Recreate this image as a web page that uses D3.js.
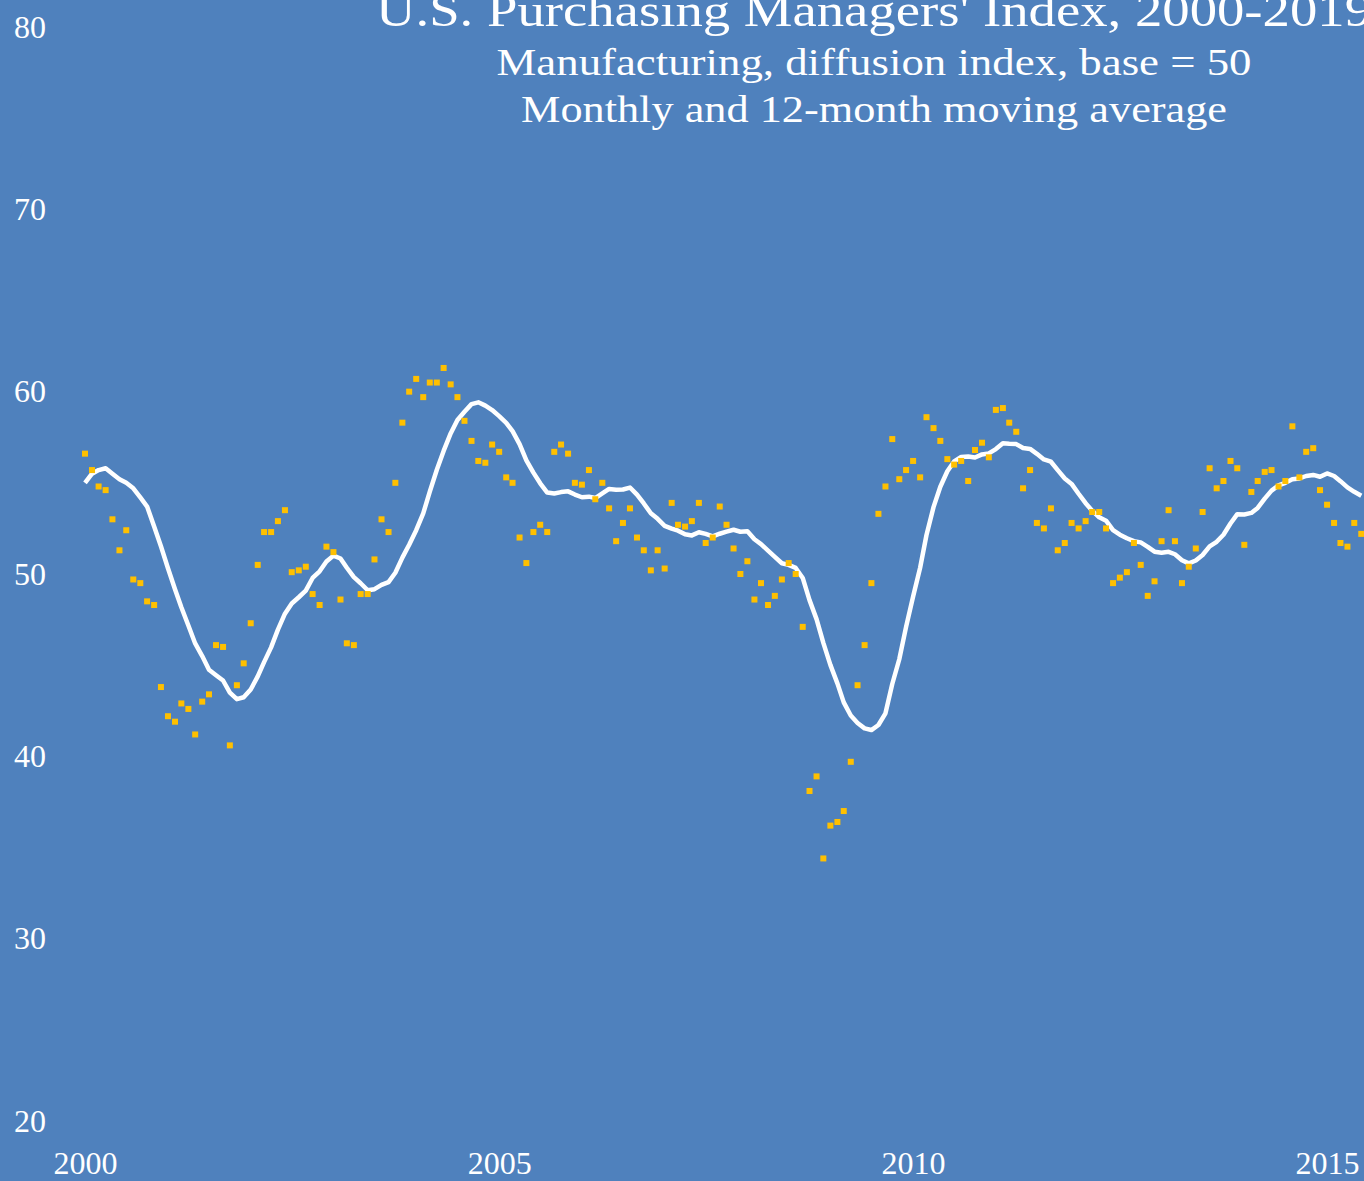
<!DOCTYPE html>
<html>
<head>
<meta charset="utf-8">
<script src="https://cdn.jsdelivr.net/npm/d3@7"></script>
<style>
  html, body { margin: 0; padding: 0; overflow: hidden; background: #4f81bd; }
  text { font-family: "Liberation Serif", "Times New Roman", serif; fill: #fff; }
</style>
</head>
<body>
<div id="chart"></div>
<script>
// monthly ISM manufacturing PMI, Jan 2000 onward
const pmi = [
  56.6, 55.7, 54.8, 54.6, 53.0, 51.3, 52.4, 49.7, 49.5, 48.5, 48.3, 43.8, // 2000
  42.2, 41.9, 42.9, 42.6, 41.2, 43.0, 43.4, 46.1, 46.0, 40.6, 43.9, 45.1, // 2001
  47.3, 50.5, 52.3, 52.3, 52.9, 53.5, 50.1, 50.2, 50.4, 48.9, 48.3, 51.5, // 2002
  51.2, 48.6, 46.2, 46.1, 48.9, 48.9, 50.8, 53.0, 52.3, 55.0, 58.3, 60.0, // 2003
  60.7, 59.7, 60.5, 60.5, 61.3, 60.4, 59.7, 58.4, 57.3, 56.2, 56.1, 57.1, // 2004
  56.7, 55.3, 55.0, 52.0, 50.6, 52.3, 52.7, 52.3, 56.7, 57.1, 56.6, 55.0, // 2005
  54.9, 55.7, 54.1, 55.0, 53.6, 51.8, 52.8, 53.6, 52.0, 51.3, 50.2, 51.3, // 2006
  50.3, 53.9, 52.7, 52.6, 52.9, 53.9, 51.7, 52.0, 53.7, 52.7, 51.4, 50.0, // 2007
  50.7, 48.6, 49.5, 48.3, 48.8, 49.7, 50.6, 50.0, 47.1, 38.1, 38.9, 34.4, // 2008
  36.2, 36.4, 37.0, 39.7, 43.9, 46.1, 49.5, 53.3, 54.8, 57.4, 55.2, 55.7, // 2009
  56.2, 55.3, 58.6, 58.0, 57.3, 56.3, 56.0, 56.2, 55.1, 56.8, 57.2, 56.4, // 2010
  59.0, 59.1, 58.3, 57.8, 54.7, 55.7, 52.8, 52.5, 53.6, 51.3, 51.7, 52.8, // 2011
  52.5, 52.9, 53.4, 53.4, 52.5, 49.5, 49.8, 50.1, 51.7, 50.5, 48.8, 49.6, // 2012
  51.8, 53.5, 51.8, 49.5, 50.4, 51.4, 53.4, 55.8, 54.7, 55.1, 56.2, 55.8, // 2013
  51.6, 54.5, 55.1, 55.6, 55.7, 54.8, 55.1, 58.1, 55.3, 56.7, 56.9, 54.6, // 2014
  53.8, 52.8, 51.7, 51.5, 52.8, 52.2                                      // 2015
];

// 12-month average for Jan-Nov 2000 (needs 1999 months)
const maStart = [55.0, 55.5, 55.7, 55.8, 55.5, 55.2, 55.0, 54.7, 54.2, 53.7, 52.6];

const yTicks = [20, 30, 40, 50, 60, 70, 80];
const xTicks = [2000, 2005, 2010, 2015, 2020];

const title = "U.S. Purchasing Managers' Index, 2000-2019";
const subtitle1 = "Manufacturing, diffusion index, base = 50";
const subtitle2 = "Monthly and 12-month moving average";

const width = 1748,
    height = 1181;

const svg = d3.select("#chart")
  .append("svg")
  .attr("width", width)
  .attr("height", height)
  .style("display", "block");

svg.append("rect")
  .attr("width", width)
  .attr("height", height)
  .attr("fill", "#4f81bd");

const x = d3.scaleTime()
  .domain([new Date(2000, 0, 1), new Date(2020, 0, 1)])
  .range([85, 1741]);

const y = d3.scaleLinear()
  .domain([20, 80])
  .range([1121, 27]);

const monthly = pmi.map((v, i) => ({ date: new Date(2000, i, 1), value: v }));
const avg = monthly.map((d, i) => ({
  date: d.date,
  value: i < 11 ? maStart[i] : d3.mean(pmi.slice(i - 11, i + 1))
}));

// y axis labels, left aligned
svg.append("g")
  .attr("transform", "translate(14,0)")
  .call(d3.axisLeft(y).tickValues(yTicks).tickSize(0).tickPadding(0))
  .call(g => g.select(".domain").remove())
  .selectAll("text")
  .attr("x", 0)
  .attr("text-anchor", "start")
  .attr("fill", "#fff")
  .style("font-size", "32px")
  .style("font-family", "Liberation Serif, serif");

// x axis labels
svg.append("g")
  .attr("transform", "translate(0,1174)")
  .call(d3.axisBottom(x)
    .tickValues(xTicks.map(yr => new Date(yr, 0, 1)))
    .tickFormat(d3.timeFormat("%Y"))
    .tickSize(0).tickPadding(0))
  .call(g => g.select(".domain").remove())
  .selectAll("text")
  .attr("y", 0)
  .attr("dy", 0)
  .attr("fill", "#fff")
  .style("font-size", "32px")
  .style("font-family", "Liberation Serif, serif");

const line = d3.line()
  .x(d => x(d.date))
  .y(d => y(d.value));

svg.append("path")
  .datum(avg)
  .attr("fill", "none")
  .attr("stroke", "#fff")
  .attr("stroke-width", 4.5)
  .attr("stroke-linejoin", "round")
  .attr("d", line);

svg.append("g")
  .selectAll("rect")
  .data(monthly)
  .join("rect")
  .attr("x", d => x(d.date) - 3)
  .attr("y", d => y(d.value) - 3)
  .attr("width", 6)
  .attr("height", 6)
  .attr("fill", "#ffc000");

// titles
const titles = [
  { text: title, y: 26, size: 46, len: 996 },
  { text: subtitle1, y: 75, size: 37, len: 755 },
  { text: subtitle2, y: 122, size: 37, len: 706 }
];

svg.append("g")
  .selectAll("text")
  .data(titles)
  .join("text")
  .attr("x", 874)
  .attr("y", d => d.y)
  .attr("text-anchor", "middle")
  .attr("textLength", d => d.len)
  .attr("lengthAdjust", "spacingAndGlyphs")
  .style("font-size", d => d.size + "px")
  .text(d => d.text);
</script>
</body>
</html>
